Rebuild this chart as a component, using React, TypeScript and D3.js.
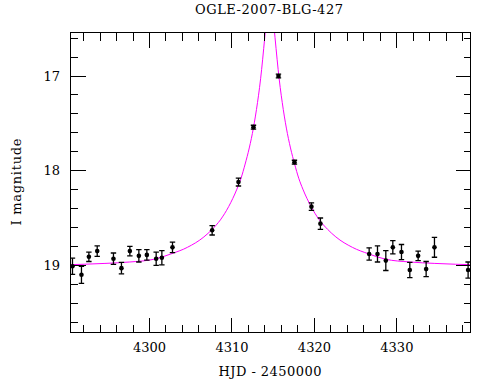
import React from "react";
import * as d3 from "d3";

const title = "OGLE-2007-BLG-427";
const xLabel = "HJD - 2450000";
const yLabel = "I magnitude";

const hjd = [4290.66, 4291.75, 4292.65, 4293.66, 4295.63, 4296.6, 4297.62, 4298.71, 4299.68, 4300.81, 4301.5, 4302.79, 4307.6, 4310.79, 4312.61, 4315.64, 4317.58, 4319.64, 4320.73, 4326.64, 4327.65, 4328.66, 4329.51, 4330.56, 4331.57, 4332.58, 4333.55, 4334.56, 4338.64];
const mag = [19.01, 19.1, 18.91, 18.85, 18.93, 19.03, 18.85, 18.9, 18.89, 18.93, 18.92, 18.81, 18.63, 18.12, 17.54, 17.0, 17.91, 18.38, 18.56, 18.88, 18.88, 18.95, 18.81, 18.86, 19.05, 18.9, 19.04, 18.81, 19.05];
const magErr = [0.085, 0.09, 0.05, 0.055, 0.06, 0.06, 0.05, 0.065, 0.055, 0.07, 0.075, 0.055, 0.05, 0.042, 0.02, 0.02, 0.02, 0.04, 0.06, 0.065, 0.085, 0.105, 0.07, 0.08, 0.08, 0.05, 0.08, 0.105, 0.085];

const modelHjd = [4289.6, 4294.6, 4297.6, 4300.6, 4302.6, 4304.6, 4306.6, 4307.6, 4308.6, 4309.6, 4310.6, 4311.1, 4311.6, 4312.1, 4312.6, 4313.1, 4313.35, 4313.6, 4313.85, 4314.1, 4314.35, 4314.6, 4314.85, 4315.1, 4315.35, 4315.6, 4315.85, 4316.1, 4316.6, 4317.1, 4317.6, 4318.1, 4318.6, 4319.6, 4320.6, 4321.6, 4322.6, 4324.6, 4326.6, 4328.6, 4331.6, 4334.6, 4339.6];
const modelMag = [18.995, 18.98, 18.965, 18.935, 18.88, 18.81, 18.7, 18.62, 18.52, 18.38, 18.195, 18.08, 17.93, 17.76, 17.55, 17.28, 17.12, 16.93, 16.71, 16.48, 16.26, 16.16, 16.26, 16.48, 16.71, 16.93, 17.12, 17.28, 17.55, 17.76, 17.93, 18.08, 18.195, 18.38, 18.52, 18.62, 18.7, 18.81, 18.88, 18.935, 18.965, 18.98, 18.995];

const xMajor = [4300, 4310, 4320, 4330];
const yMajor = [17, 18, 19];

const W = 490, H = 380;
const L = 70.5, R = 470.5, T = 32.5, B = 332.5;
const FONT = "'DejaVu Serif', serif";

export default function App() {
  const x = d3.scaleLinear().domain([4290.42, 4338.93]).range([L, R]);
  const y = d3.scaleLinear().domain([16.54, 19.71]).range([T, B]);

  const xMinor = d3.range(4292, 4339, 2).filter((v) => v % 10 !== 0);
  const yMinor = d3.range(16.6, 19.71, 0.2).map((v) => +v.toFixed(1)).filter((v) => Math.abs(v - Math.round(v)) > 0.01);

  const pts = modelHjd.map((t, i) => [t, modelMag[i]] as [number, number]);
  const line = d3.line<[number, number]>().x((d) => x(d[0])).y((d) => y(d[1])).curve(d3.curveMonotoneX);

  const px = (v: number) => Math.round(v - 0.5) + 0.5;

  const ticks: React.ReactNode[] = [];
  xMajor.forEach((v, i) => {
    const xx = px(x(v));
    ticks.push(<line key={"xb" + i} x1={xx} x2={xx} y1={B} y2={B - 15} />);
    ticks.push(<line key={"xt" + i} x1={xx} x2={xx} y1={T} y2={T + 15} />);
  });
  xMinor.forEach((v, i) => {
    const xx = px(x(v));
    ticks.push(<line key={"xmb" + i} x1={xx} x2={xx} y1={B} y2={B - 8} />);
    ticks.push(<line key={"xmt" + i} x1={xx} x2={xx} y1={T} y2={T + 8} />);
  });
  yMajor.forEach((v, i) => {
    const yy = px(y(v));
    ticks.push(<line key={"yl" + i} x1={L} x2={L + 15} y1={yy} y2={yy} />);
    ticks.push(<line key={"yr" + i} x1={R} x2={R - 15} y1={yy} y2={yy} />);
  });
  yMinor.forEach((v, i) => {
    const yy = px(y(v));
    ticks.push(<line key={"yml" + i} x1={L} x2={L + 7} y1={yy} y2={yy} />);
    ticks.push(<line key={"ymr" + i} x1={R} x2={R - 7} y1={yy} y2={yy} />);
  });

  return (
    <svg width={W} height={H} style={{ position: "absolute", left: 0, top: 0, background: "#fff" }} fontFamily={FONT}>
      <defs>
        <clipPath id="plotClip">
          <rect x={L} y={T} width={R - L} height={B - T} />
        </clipPath>
      </defs>
      <rect x={0} y={0} width={W} height={H} fill="#fff" />
      <path d={line(pts) || ""} fill="none" stroke="#ff00ff" strokeWidth={1} clipPath="url(#plotClip)" />
      <g stroke="#000" strokeWidth={1.3} clipPath="url(#plotClip)">
        {hjd.map((t, i) => {
          const cx = x(t);
          const y1 = y(mag[i] - magErr[i]);
          const y2 = y(mag[i] + magErr[i]);
          return (
            <g key={"e" + i}>
              <line x1={cx} x2={cx} y1={y1} y2={y2} />
              <line x1={cx - 2.7} x2={cx + 2.7} y1={y1} y2={y1} />
              <line x1={cx - 2.7} x2={cx + 2.7} y1={y2} y2={y2} />
            </g>
          );
        })}
      </g>
      <g fill="#000" clipPath="url(#plotClip)">
        {hjd.map((t, i) => (
          <circle key={"p" + i} cx={x(t)} cy={y(mag[i])} r={2.3} />
        ))}
      </g>
      <g stroke="#000" strokeWidth={1} shapeRendering="crispEdges">
        {ticks}
        <rect x={L} y={T} width={R - L} height={B - T} fill="none" />
      </g>
      <g fontSize={13} fill="#000">
        {xMajor.map((v) => (
          <text key={"xl" + v} x={x(v)} y={351.5} textAnchor="middle">{v}</text>
        ))}
        {yMajor.map((v) => (
          <text key={"yl" + v} x={60} y={y(v) + 4.5} textAnchor="end">{v}</text>
        ))}
        <text x={269} y={14} textAnchor="middle" textLength={148} lengthAdjust="spacing">{title}</text>
        <text x={270} y={376} textAnchor="middle" textLength={103} lengthAdjust="spacing">{xLabel}</text>
        <text transform="translate(21,182) rotate(-90)" textAnchor="middle" textLength={87} lengthAdjust="spacing">{yLabel}</text>
      </g>
    </svg>
  );
}
